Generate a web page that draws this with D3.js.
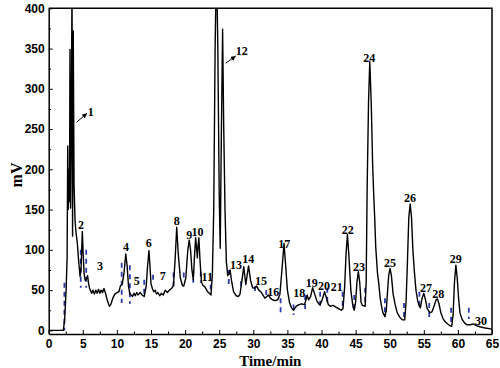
<!DOCTYPE html>
<html><head><meta charset="utf-8">
<script src="https://cdn.jsdelivr.net/npm/d3@7"></script>
<style>body{margin:0;background:#fff}svg{display:block}</style>
</head><body><svg id="c" width="500" height="368"></svg>
<script>
// ---- data ----
const times = [0,2.15,2.35,2.55,2.7,2.79,2.86,2.95,3.05,3.12,3.2,3.3,3.42,3.5,3.6,3.72,3.86,4.0,4.2,4.4,4.6,4.75,4.93,5.05,5.2,5.35,5.55,5.7,5.85,6.0,6.3,6.5,6.7,6.9,7.1,7.3,7.5,7.7,7.9,8.1,8.3,8.6,8.9,9.1,9.4,9.7,10.0,10.3,10.5,10.8,11.05,11.3,11.5,11.7,11.9,12.1,12.3,12.5,12.7,12.9,13.1,13.4,13.7,14.0,14.3,14.5,14.7,14.85,15.0,15.2,15.4,15.6,15.8,16.0,16.3,16.5,16.8,17.1,17.4,17.7,18.0,18.3,18.55,18.77,19.0,19.3,19.6,19.8,20.1,20.4,20.6,20.8,21.0,21.2,21.4,21.55,21.7,21.8,21.9,22.02,22.2,22.4,22.6,22.9,23.1,23.3,23.55,23.8,24.0,24.2,24.4,24.6,24.8,25.0,25.15,25.3,25.5,25.65,25.85,26.05,26.25,26.45,26.6,26.8,27.1,27.5,27.8,28.05,28.3,28.6,28.9,29.3,29.6,29.9,30.2,30.5,30.8,31.1,31.4,31.7,32.0,32.2,32.5,32.8,33.2,33.6,33.9,34.2,34.5,34.75,35.0,35.3,35.6,35.9,36.3,36.7,37.1,37.5,37.7,37.9,38.1,38.4,38.7,39.0,39.3,39.6,39.8,40.1,40.45,40.8,41.0,41.3,41.7,42.1,42.5,42.9,43.15,43.4,43.6,43.8,44.0,44.3,44.6,44.8,45.0,45.2,45.4,45.6,45.8,46.0,46.4,46.55,46.7,46.9,47.08,47.3,47.5,47.65,47.8,47.95,48.2,48.4,48.6,48.8,49.0,49.3,49.5,49.7,49.85,50.05,50.25,50.5,50.8,51.1,51.5,51.9,52.2,52.4,52.6,52.8,53.0,53.2,53.4,53.6,53.85,54.1,54.3,54.5,54.75,55.0,55.25,55.5,55.9,56.2,56.5,56.8,57.0,57.2,57.5,57.8,58.1,58.5,58.8,59.1,59.3,59.5,59.7,59.9,60.1,60.3,60.6,61.0,61.3,61.8,62.3,62.7,63.2,64.0,65];
const signal = [0,0,15,50,90,229,150,200,160,349,152,250,430,117,372,180,137,122,108,85,67,78,123,95,70,62,64,68,58,52,46,50,45,50,46,51,46,50,47,52,47,37,30,32,40,45,47,48,55,58,72,95,80,55,45,44,42,46,43,47,44,47,44,42,55,80,99,80,58,52,48,50,45,47,43,46,44,50,47,50,52,56,90,128,95,65,56,55,65,100,112,100,75,63,95,115,100,90,105,115,85,60,56,54,51,48,46,44,70,150,350,460,350,170,102,230,374,260,150,85,68,70,75,62,48,43,42,45,60,79,57,80,62,53,52,55,50,48,44,40,42,44,40,38,37,38,45,75,108,80,50,35,28,25,30,32,33,32,37,44,38,42,53,45,37,33,32,38,48,38,32,30,31,29,27,25,27,55,95,119,95,50,30,25,35,60,73,60,35,31,30,60,180,285,334,280,205,170,140,104,72,58,40,30,22,17,25,50,68,77,68,45,32,22,16,13,13,35,85,140,157,140,100,75,50,37,31,28,40,46,38,27,22,23,30,38,39,34,22,15,11,8,6,5,20,60,81,65,40,22,14,9,7,7,8,6,4.5,3,1.5];

// peak labels (centre of text, in data units)
const peakIds   = ["1","2","3","4","5","6","7","8","9","10","11","12","13","14","15","16","17","18","19","20","21","22","23","24","25","26","27","28","29","30"];
const labelTime = [6.16,4.74,7.52,11.33,12.9,14.66,16.72,18.77,20.6,21.8,23.25,28.3,27.46,29.27,31.13,32.93,34.55,36.74,38.56,40.37,42.23,43.84,45.5,47.0,50.04,52.98,55.32,57.13,59.68,63.39];
const labelMV   = [271.7,131,80,103.5,61.7,108.4,68.2,136,118.7,122,66.3,347,81.5,88.6,62,48.4,107.6,47.1,59.6,55.5,53.8,125,78.7,339,83.6,164.3,52.6,45.2,88.6,12];

// arrows for peaks 1 and 12
const arrowFromTime = [4.1,25.95];
const arrowFromMV   = [258.5,331.8];
const arrowToTime   = [5.62,27.42];
const arrowToMV     = [269.7,340.8];

// blue dashed peak-boundary markers
const dashTime   = [2.3,4.7,5.5,10.7,11.9,14.0,15.3,18.3,19.8,21.2,22.3,23.75,26.4,28.2,30.25,31.9,34.0,35.9,37.6,39.8,40.85,43.1,44.8,46.4,49.3,52.1,54.35,55.8,59.0,61.6];
const dashTop    = [59,100,100,84,81,63,69,72,72,75,73,57,75,61,55,50,40,32,44,48,53,48,44,53,40,34,48,34,28,28];
const dashBottom = [0,53,53,34,33,42,63,53,63,59,59,50,55,50,48,44,22,19,26,30,32,26,24,31,17,13,28,14,5,14];

const xTickValues = [0,5,10,15,20,25,30,35,40,45,50,55,60,65];
const xMinorTicks = [2.5,7.5,12.5,17.5,22.5,27.5,32.5,37.5,42.5,47.5,52.5,57.5,62.5];
const yTickValues = [0,50,100,150,200,250,300,350,400];
const yMinorTicks = [25,75,125,175,225,275,325,375];

// ---- drawing ----
const svg = d3.select("#c");
const L = 48.7, R = 492, T = 8.3, B = 334;
const x = d3.scaleLinear().domain([0,65]).range([L,R]);
const y = d3.scaleLinear().domain([-4.5,400]).range([B,T]);

svg.append("defs").append("clipPath").attr("id","clip")
  .append("rect").attr("x",L).attr("y",T).attr("width",R-L).attr("height",B-T);
svg.select("defs").append("marker").attr("id","ah")
  .attr("viewBox","0 0 10 10").attr("refX",10).attr("refY",5)
  .attr("markerWidth",5).attr("markerHeight",5).attr("markerUnits","userSpaceOnUse")
  .attr("orient","auto")
  .append("path").attr("d","M0,0L10,5L0,10z").attr("fill","#000");

// dashed markers
svg.append("g").attr("clip-path","url(#clip)")
  .selectAll("line").data(dashTime).join("line")
  .attr("x1",d=>x(d)).attr("x2",d=>x(d))
  .attr("y1",(d,i)=>y(dashTop[i])).attr("y2",(d,i)=>y(dashBottom[i]))
  .attr("stroke","#2c3aa8").attr("stroke-width",1.8).attr("stroke-dasharray","5,4");

// chromatogram
const pts = times.map((t,i)=>[t,signal[i]]);
svg.append("path").datum(pts).attr("clip-path","url(#clip)")
  .attr("d", d3.line().x(d=>x(d[0])).y(d=>y(d[1])))
  .attr("fill","none").attr("stroke","#000").attr("stroke-width",1.4).attr("stroke-linejoin","round");

// axes
const fontTick = "'Liberation Sans', Arial, sans-serif";
const xAxis = svg.append("g").attr("transform",`translate(0,${B})`)
  .call(d3.axisBottom(x).tickValues(xTickValues).tickSizeInner(-4).tickSizeOuter(0).tickPadding(5));
const yAxis = svg.append("g").attr("transform",`translate(${L},0)`)
  .call(d3.axisLeft(y).tickValues(yTickValues).tickSizeInner(-4).tickSizeOuter(0).tickPadding(4));
svg.append("g").attr("transform",`translate(0,${B})`)
  .call(d3.axisBottom(x).tickValues(xMinorTicks).tickSizeInner(-2.5).tickSizeOuter(0).tickFormat(""))
  .select(".domain").remove();
svg.append("g").attr("transform",`translate(${L},0)`)
  .call(d3.axisLeft(y).tickValues(yMinorTicks).tickSizeInner(-2.5).tickSizeOuter(0).tickFormat(""))
  .select(".domain").remove();
[xAxis,yAxis].forEach(g=>{
  g.selectAll("text").attr("font-family",fontTick).attr("font-weight","bold").attr("font-size",12).attr("fill","#000");
  g.select(".domain").attr("stroke-width",1.5);
});
svg.selectAll(".tick line").attr("stroke-width",1);

// frame top/right
svg.append("path").attr("d",`M${L},${T}H${R}V${B}`).attr("fill","none").attr("stroke","#000").attr("stroke-width",1.5);

// axis titles
const serif = "'Liberation Serif', 'Times New Roman', serif";
svg.append("text").attr("x",(L+R)/2).attr("y",366).attr("text-anchor","middle")
  .attr("font-family",serif).attr("font-weight","bold").attr("font-size",15).text("Time/min");
svg.append("text").attr("transform","translate(22,175) rotate(-90)").attr("text-anchor","middle")
  .attr("font-family",serif).attr("font-weight","bold").attr("font-size",16).text("mV");

// peak labels
svg.append("g").selectAll("text").data(peakIds).join("text")
  .attr("x",(d,i)=>x(labelTime[i])).attr("y",(d,i)=>y(labelMV[i])).attr("dy","0.35em")
  .attr("text-anchor","middle").attr("font-family",serif).attr("font-weight","bold").attr("font-size",12)
  .text(d=>d);

// arrows
svg.append("g").selectAll("line").data(arrowFromTime).join("line")
  .attr("x1",d=>x(d)).attr("y1",(d,i)=>y(arrowFromMV[i]))
  .attr("x2",(d,i)=>x(arrowToTime[i])).attr("y2",(d,i)=>y(arrowToMV[i]))
  .attr("stroke","#000").attr("stroke-width",1).attr("marker-end","url(#ah)");
</script></body></html>
